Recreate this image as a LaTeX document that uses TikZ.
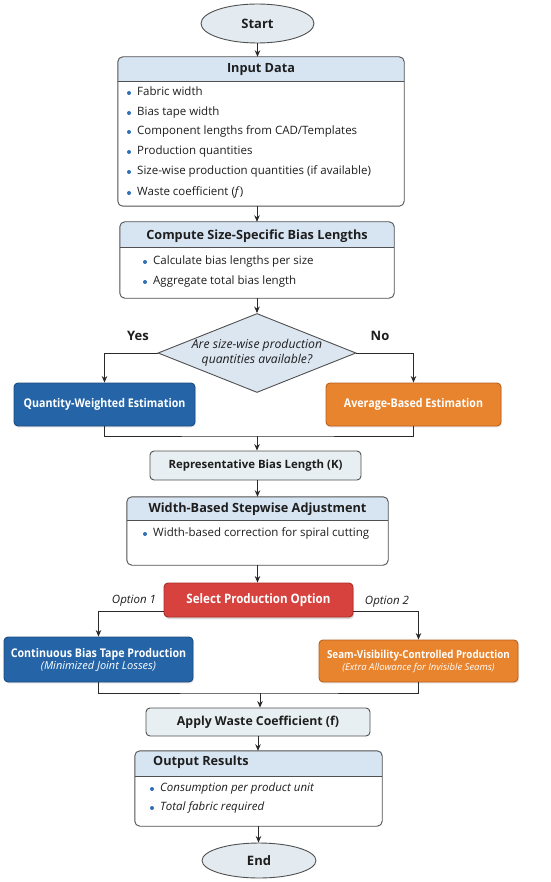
\documentclass[tikz,border=0pt]{standalone}
\usepackage{fontspec}
\usepackage{graphicx}
\setmainfont{Open Sans}
\usetikzlibrary{shapes.geometric,arrows.meta,shadows}
\definecolor{hdr}{HTML}{D7E5F3}
\definecolor{lite}{HTML}{E8EFF2}
\definecolor{ell}{HTML}{E3EBF1}
\definecolor{diaf}{HTML}{DCE6F1}
\definecolor{bblue}{HTML}{2565A7}
\definecolor{bbluedk}{HTML}{1B4A7D}
\definecolor{orng}{HTML}{E8832E}
\definecolor{orngdk}{HTML}{B8601A}
\definecolor{redb}{HTML}{D8423E}
\definecolor{reddk}{HTML}{A82C29}
\definecolor{bul}{HTML}{2F6FB5}
\definecolor{ln}{HTML}{2A2A2A}
\definecolor{bd}{HTML}{505050}
\definecolor{tx}{HTML}{1E1E1E}

\newcommand\nar[1]{\scalebox{0.89}[1]{#1}}
\newcommand\panel[6]{%
  \node[panelnode, minimum width={#4-#2}, minimum height={#5-#3}] (#1) at ({(#2+#4)/2},{(#3+#5)/2}) {};
  \begin{scope}
    \clip (#2,#3) rectangle (#4,#6);
    \fill[hdr, rounded corners=5pt] (#2,#3) rectangle (#4,#5);
  \end{scope}
  \draw[edge] (#2,#6) -- (#4,#6);
  \draw[edge, rounded corners=5pt] (#1.north west) rectangle (#1.south east);
}
\newcommand\bitem[4]{%
  \fill[bul] ({#2-8},#3) circle (2pt);
  \node[txt] (#1) at (#2,#3) {#4};
}

\begin{document}
\begin{tikzpicture}[x=1pt,y=-1pt,
  edge/.style={draw=bd, line width=0.9pt},
  conn/.style={draw=ln, line width=0.9pt},
  arr/.style={draw=ln, line width=0.9pt, -{Stealth[length=6.5pt,width=5.5pt]}},
  panelnode/.style={rectangle, fill=white, draw=none, inner sep=0pt, rounded corners=5pt},
  ttl/.style={font=\fontsize{12.7}{15}\selectfont\bfseries, inner sep=0pt, text=tx},
  txt/.style={font=\fontsize{11.5}{14}\selectfont, inner sep=0pt, anchor=mid west, text=tx},
  itxt/.style={font=\fontsize{11.5}{14}\selectfont\itshape, inner sep=0pt, anchor=mid west, text=tx},
  term/.style={ellipse, draw=bd, line width=0.9pt, fill=ell, inner sep=0pt, font=\fontsize{13}{15}\selectfont\bfseries, text=tx},
  litebox/.style={rectangle, rounded corners=4pt, draw=bd, line width=0.9pt, fill=lite, inner sep=0pt, text=tx},
  colbox/.style={rectangle, rounded corners=4pt, line width=0.9pt, inner sep=0pt, text=white, align=center},
  bluebox/.style={colbox, fill=bblue, draw=bbluedk, drop shadow={opacity=0.15, shadow xshift=1pt, shadow yshift=-1.5pt}},
  orbox/.style={colbox, fill=orng, draw=orngdk, drop shadow={opacity=0.15, shadow xshift=1pt, shadow yshift=-1.5pt}},
  redbox/.style={colbox, fill=redb, draw=reddk, drop shadow={opacity=0.3, shadow xshift=1pt, shadow yshift=-2pt}},
  dia/.style={diamond, draw=bd, line width=0.9pt, fill=diaf, inner sep=0pt},
  lab/.style={font=\fontsize{13}{15}\selectfont\bfseries, inner sep=0pt, text=tx},
  olab/.style={font=\fontsize{11.5}{14}\selectfont\itshape, inner sep=0pt, text=tx}
]
\useasboundingbox[fill=white] (0,0) rectangle (550,882);

% Start
\node[term, minimum width=113pt, minimum height=39pt] (start) at (257.5,23.5) {Start};

% Input Data
\panel{inp}{118}{57}{404}{206}{81}
\node[ttl] (inpT) at (261,69) {Input Data};
\bitem{inp1}{137}{93}{Fabric width}
\bitem{inp2}{137}{113}{Bias tape width}
\bitem{inp3}{137}{132}{Component lengths from CAD/Templates}
\bitem{inp4}{137}{152}{Production quantities}
\bitem{inp5}{137}{172}{Size-wise production quantities (if available)}
\bitem{inp6}{137}{193}{Waste coefficient (\textit{f})}

% Compute
\panel{comp}{120}{222}{394}{298}{247}
\node[ttl] (compT) at (257,236) {Compute Size-Specific Bias Lengths};
\bitem{comp1}{153}{262}{Calculate bias lengths per size}
\bitem{comp2}{153}{282}{Aggregate total bias length}

% Decision
\node[dia, minimum width=198pt, minimum height=79pt] (dia) at (257,353) {};
\node[font=\fontsize{12.2}{15}\selectfont\itshape, align=center, inner sep=0pt, text=tx] (diaT) at (257,353) {Are size-wise production\\quantities available?};
\node[lab] (yes) at (138,336) {Yes};
\node[lab] (no) at (380,336) {No};

\node[bluebox, font=\fontsize{12}{14}\selectfont\bfseries, minimum width=181pt, minimum height=43pt] (qw) at (104.5,404.5) {\nar{Quantity-Weighted Estimation}};
\node[orbox, font=\fontsize{12}{14}\selectfont\bfseries, minimum width=175pt, minimum height=43pt] (ab) at (413.5,404.5) {\nar{Average-Based Estimation}};

\coordinate (m1) at (257,436);

% Representative
\node[litebox, font=\fontsize{11.4}{14}\selectfont\bfseries, minimum width=211pt, minimum height=29pt] (rep) at (255.5,465.5) {Representative Bias Length (K)};

% Width-based
\panel{wba}{127}{497}{388}{565}{520}
\node[ttl] (wbaT) at (257.5,509) {Width-Based Stepwise Adjustment};
\bitem{wba1}{153}{534}{Width-based correction for spiral cutting}

% Select
\node[redbox, font=\fontsize{13}{15}\selectfont\bfseries, minimum width=189pt, minimum height=34pt] (sel) at (258.5,600) {\nar{Select Production Option}};
\node[olab] (opt1) at (134,601) {Option 1};
\node[olab] (opt2) at (387,602) {Option 2};

\node[bluebox, minimum width=189pt, minimum height=45pt] (cbt) at (98.5,659.5) {{\fontsize{12}{16}\selectfont\bfseries \nar{Continuous Bias Tape Production}}\\{\fontsize{11}{13}\selectfont\itshape (Minimized Joint Losses)}};
\node[orbox, minimum width=199pt, minimum height=42pt] (svc) at (418.5,661) {{\fontsize{11}{16}\selectfont\bfseries \nar{Seam-Visibility-Controlled Production}}\\{\fontsize{9.5}{12}\selectfont\itshape (Extra Allowance for Invisible Seams)}};

\coordinate (m2) at (260,693);

% Apply
\node[litebox, font=\fontsize{12.3}{14}\selectfont\bfseries, minimum width=224pt, minimum height=28pt] (app) at (258,722) {Apply Waste Coefficient (f)};

% Output
\panel{out}{135}{751}{382}{826}{776}
\node[ttl, anchor=mid west] (outT) at (153,763) {Output Results};
\fill[bul] (152,789) circle (2pt);
\node[itxt] (out1) at (160,789) {Consumption per product unit};
\fill[bul] (152,808) circle (2pt);
\node[itxt] (out2) at (160,808) {Total fabric required};

% End
\node[term, minimum width=114pt, minimum height=35pt] (end) at (259,860.5) {End};

% Connectors
\draw[arr] (start.south) -- (start.south |- inp.north);
\draw[arr] (inp.south -| comp.north) -- (comp.north);
\draw[arr] (comp.south) -- (dia.north);
\draw[arr] (dia.west) -| (qw.north);
\draw[arr] (dia.east) -| (ab.north);
\draw[conn] (qw.south) |- (m1) -| (ab.south);
\draw[arr] (m1) -- (m1 |- rep.north);
\draw[arr] (rep.south -| wba.north) -- (wba.north);
\draw[arr] (wba.south) -- (wba.south |- sel.north);
\draw[arr] ([yshift=-11pt]sel.west) -| (cbt.north);
\draw[arr] ([yshift=-11pt]sel.east) -| (svc.north);
\draw[conn] (cbt.south) |- (m2) -| (svc.south);
\draw[arr] (m2) -- (m2 |- app.north);
\draw[arr] (app.south) -- (app.south |- out.north);
\draw[arr] (out.south) -- (out.south |- end.north);
\end{tikzpicture}
\end{document}
